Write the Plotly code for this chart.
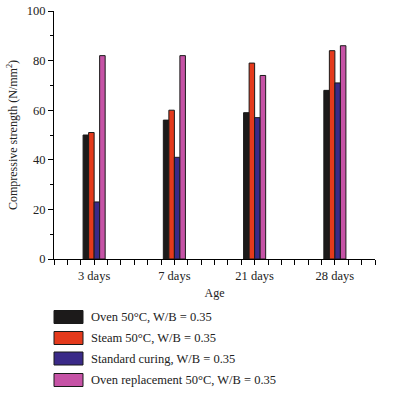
import plotly.graph_objects as go

ages = ["3 days", "7 days", "21 days", "28 days"]
series_names = [
    "Oven 50°C, W/B = 0.35",
    "Steam 50°C, W/B = 0.35",
    "Standard curing, W/B = 0.35",
    "Oven replacement 50°C, W/B = 0.35",
]
oven = [50, 56, 59, 68]
steam = [51, 60, 79, 84]
standard = [23, 41, 57, 71]
oven_repl = [82, 82, 74, 86]
colors = ["#1c1a1a", "#e43a1c", "#3a2a88", "#c653a6"]

W, H = 406, 394
L, R, T, B = 54, 406 - 375, 11, H - 259
FONT = "Liberation Serif"

fig = go.Figure()
xpos = list(range(len(ages)))
for name, vals, c in zip(series_names, [oven, steam, standard, oven_repl], colors):
    fig.add_trace(go.Bar(x=xpos, y=vals, name=name,
                         marker=dict(color=c, line=dict(color="#1a1a1a", width=1)),
                         showlegend=False))

pw = W - L - R
ph = H - T - B
def px2paper(x, y):
    return (x - L) / pw, (H - B - y) / ph

shapes = []
annotations = []
row_centers = [317, 338, 358.5, 380]
for name, c, yc in zip(series_names, colors, row_centers):
    x0, ytop = px2paper(54, yc - 6.5)
    x1, ybot = px2paper(83, yc + 6.5)
    shapes.append(dict(type="rect", xref="paper", yref="paper", x0=x0, x1=x1, y0=ybot, y1=ytop,
                       fillcolor=c, line=dict(color="#1a1a1a", width=1)))
    ax, ay = px2paper(89, yc)
    annotations.append(dict(xref="paper", yref="paper", x=ax, y=ay, text=name, showarrow=False,
                            xanchor="left", yanchor="middle",
                            font=dict(family=FONT, size=12.5, color="#222")))

fig.update_layout(
    width=W, height=H,
    margin=dict(l=L, r=R, t=T, b=B, autoexpand=False),
    plot_bgcolor="white", paper_bgcolor="white",
    barmode="group", bargap=0.725, bargroupgap=0,
    font=dict(family=FONT, size=12, color="#222"),
    shapes=shapes, annotations=annotations,
    xaxis=dict(
        range=[-0.5, 3.5], tickvals=xpos, ticktext=ages,
        showline=True, linecolor="black", linewidth=1, mirror=False,
        ticks="outside", ticklen=5, tickcolor="black", showgrid=False, zeroline=False,
        minor=dict(ticks="outside", ticklen=5, tickcolor="black", tick0=-0.5, dtick=1/6, showgrid=False),
        title=dict(text="Age", font=dict(family=FONT, size=12), standoff=6),
        tickfont=dict(family=FONT, size=12.5), automargin=False,
    ),
    yaxis=dict(
        range=[0, 100], tickvals=[0, 20, 40, 60, 80, 100],
        showline=True, linecolor="black", linewidth=1,
        ticks="outside", ticklen=5, tickcolor="black", showgrid=False, zeroline=False,
        minor=dict(ticks="outside", ticklen=3, tickcolor="black", dtick=10, showgrid=False),
        title=dict(text="Compressive strength (N/mm<sup>2</sup>)", font=dict(family=FONT, size=12), standoff=6),
        tickfont=dict(family=FONT, size=12.5), automargin=False,
    ),
)

fig.write_html("out.html", config={"displayModeBar": False},
               post_script="document.body.style.margin='0';")
